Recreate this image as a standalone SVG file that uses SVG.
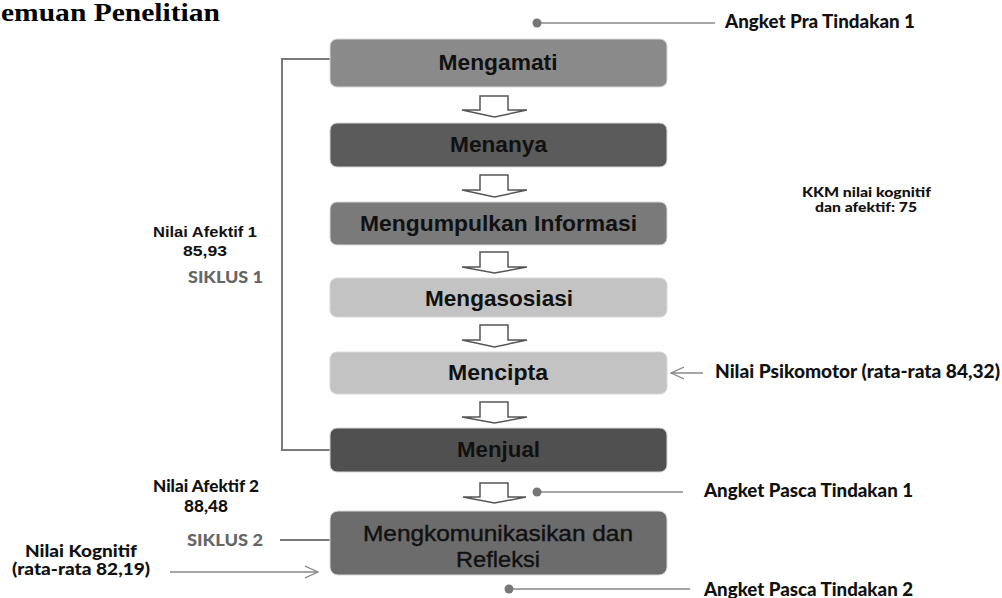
<svg xmlns="http://www.w3.org/2000/svg" width="1002" height="598" viewBox="0 0 1002 598">
<defs>
<style>
.box{stroke:#d8d8d8;stroke-width:1}
.bt{font-family:"Liberation Sans",Arial,sans-serif;font-weight:700;font-size:22px;fill:#111;text-anchor:middle}
.lato{font-family:Lato,"Liberation Sans",sans-serif;font-weight:900;fill:#111}
.arial{font-family:"Liberation Sans",Arial,sans-serif;font-weight:700;fill:#111}
.blk{fill:#fff;stroke:#555;stroke-width:1.5;stroke-linejoin:miter}
.ln{stroke:#7a7a7a;stroke-width:2;fill:none}
.thin{stroke:#888;stroke-width:1.5;fill:none}
.dot{fill:#777}
.sik{font-family:Lato,"Liberation Sans",sans-serif;font-weight:900;font-size:16px;fill:#666}
</style>
<marker id="open2" viewBox="0 0 14 14" refX="13" refY="7" markerWidth="14" markerHeight="14" markerUnits="userSpaceOnUse" orient="auto">
<path d="M0,1 L13,7 L0,13" fill="none" stroke="#888" stroke-width="1.3"/>
</marker>
</defs>
<rect width="1002" height="598" fill="#fff"/>

<text x="1" y="21" font-family="'Liberation Serif','Times New Roman',serif" font-weight="700" font-size="25" textLength="219" lengthAdjust="spacingAndGlyphs" fill="#000">emuan Penelitian</text>

<g id="connectors">
<path class="ln" d="M330,59 H282 V450 H330"/>
<line class="ln" x1="280" y1="540" x2="330" y2="540"/>
<line class="thin" x1="170" y1="572" x2="318" y2="572" marker-end="url(#open2)"/>
<line class="thin" x1="703" y1="373" x2="671" y2="373" marker-end="url(#open2)"/>
<line class="thin" x1="537" y1="23" x2="715" y2="23"/>
<circle class="dot" cx="537" cy="23" r="4.5"/>
<line class="thin" x1="537" y1="492" x2="683" y2="492"/>
<circle class="dot" cx="537" cy="492" r="4.5"/>
<line class="thin" x1="509" y1="589" x2="690" y2="589"/>
<circle class="dot" cx="509" cy="589" r="4.5"/>
<path class="blk" d="M480,96 H508 V110 H527 L494.5,117 L462,110 H480 Z"/>
<path class="blk" d="M480,175 H508 V190 H527 L494.5,197 L462,190 H480 Z"/>
<path class="blk" d="M480,252 H508 V267 H527 L494.5,273 L462,267 H480 Z"/>
<path class="blk" d="M480,325 H508 V340 H527 L494.5,347 L462,340 H480 Z"/>
<path class="blk" d="M480,402 H508 V417 H527 L494.5,423 L462,417 H480 Z"/>
<path class="blk" d="M480,483 H508 V497 H526 L494.5,503 L463,497 H480 Z"/>
</g>

<g id="n-mengamati">
<rect class="box" x="330" y="39" width="337" height="48" rx="7" fill="#8a8a8a"/>
<text class="bt" x="498" y="70" textLength="119" lengthAdjust="spacingAndGlyphs">Mengamati</text>
</g>
<g id="n-menanya">
<rect class="box" x="330" y="123" width="337" height="44" rx="7" fill="#5b5b5b"/>
<text class="bt" x="498.5" y="152" textLength="97" lengthAdjust="spacingAndGlyphs">Menanya</text>
</g>
<g id="n-mengumpulkan">
<rect class="box" x="330" y="202" width="337" height="43" rx="7" fill="#7a7a7a"/>
<text class="bt" x="498.5" y="231" textLength="277" lengthAdjust="spacingAndGlyphs">Mengumpulkan Informasi</text>
</g>
<g id="n-mengasosiasi">
<rect class="box" x="330" y="278" width="337" height="39" rx="7" fill="#c3c3c3"/>
<text class="bt" x="499" y="306" textLength="148" lengthAdjust="spacingAndGlyphs">Mengasosiasi</text>
</g>
<g id="n-mencipta">
<rect class="box" x="330" y="352" width="337" height="42" rx="7" fill="#c3c3c3"/>
<text class="bt" x="498" y="380" textLength="100" lengthAdjust="spacingAndGlyphs">Mencipta</text>
</g>
<g id="n-menjual">
<rect class="box" x="330" y="428" width="337" height="44" rx="7" fill="#505050"/>
<text class="bt" x="498.5" y="457" textLength="83" lengthAdjust="spacingAndGlyphs">Menjual</text>
</g>
<g id="n-mengkomunikasikan">
<rect class="box" x="330" y="511" width="337" height="64" rx="8" fill="#6c6c6c"/>
<text x="498" y="541" font-family="'Liberation Sans',Arial,sans-serif" font-size="22" fill="#111" text-anchor="middle" stroke="#111" stroke-width="0.4" textLength="270" lengthAdjust="spacingAndGlyphs">Mengkomunikasikan dan</text>
<text x="498" y="567" font-family="'Liberation Sans',Arial,sans-serif" font-size="22" fill="#111" text-anchor="middle" stroke="#111" stroke-width="0.4" textLength="84" lengthAdjust="spacingAndGlyphs">Refleksi</text>
</g>

<g id="l-angket-pra">
<text class="lato" x="725" y="28" font-size="18" textLength="190" lengthAdjust="spacingAndGlyphs">Angket Pra Tindakan 1</text>
</g>
<g id="l-kkm">
<text class="lato" x="866.5" y="197" font-size="14" text-anchor="middle" textLength="129" lengthAdjust="spacingAndGlyphs">KKM nilai kognitif</text>
<text class="lato" x="866" y="212" font-size="14" text-anchor="middle" textLength="102" lengthAdjust="spacingAndGlyphs">dan afektif: 75</text>
</g>
<g id="l-psikomotor">
<text class="lato" x="715" y="378" font-size="18" textLength="285" lengthAdjust="spacingAndGlyphs">Nilai Psikomotor (rata-rata 84,32)</text>
</g>
<g id="l-pasca1">
<text class="lato" x="704" y="497" font-size="18" textLength="209" lengthAdjust="spacingAndGlyphs">Angket Pasca Tindakan 1</text>
</g>
<g id="l-pasca2">
<text class="lato" x="704" y="596" font-size="18" textLength="209" lengthAdjust="spacingAndGlyphs">Angket Pasca Tindakan 2</text>
</g>
<g id="l-afektif1">
<text class="arial" x="205" y="237" font-size="15" text-anchor="middle" textLength="104" lengthAdjust="spacingAndGlyphs">Nilai Afektif 1</text>
<text class="arial" x="205" y="256" font-size="15" text-anchor="middle" textLength="44" lengthAdjust="spacingAndGlyphs">85,93</text>
<text class="sik" x="188" y="283" textLength="75" lengthAdjust="spacingAndGlyphs">SIKLUS 1</text>
</g>
<g id="l-afektif2">
<text class="lato" x="206" y="492" font-size="16" font-weight="700" text-anchor="middle" textLength="106" lengthAdjust="spacingAndGlyphs">Nilai Afektif 2</text>
<text class="lato" x="206" y="512" font-size="16" font-weight="700" text-anchor="middle" textLength="44" lengthAdjust="spacingAndGlyphs">88,48</text>
<text class="sik" x="187" y="546" textLength="76" lengthAdjust="spacingAndGlyphs">SIKLUS 2</text>
</g>
<g id="l-kognitif">
<text class="lato" x="81" y="557" font-size="16" text-anchor="middle" textLength="112" lengthAdjust="spacingAndGlyphs">Nilai Kognitif</text>
<text class="lato" x="81" y="575" font-size="16" text-anchor="middle" textLength="138" lengthAdjust="spacingAndGlyphs">(rata-rata 82,19)</text>
</g>
</svg>
